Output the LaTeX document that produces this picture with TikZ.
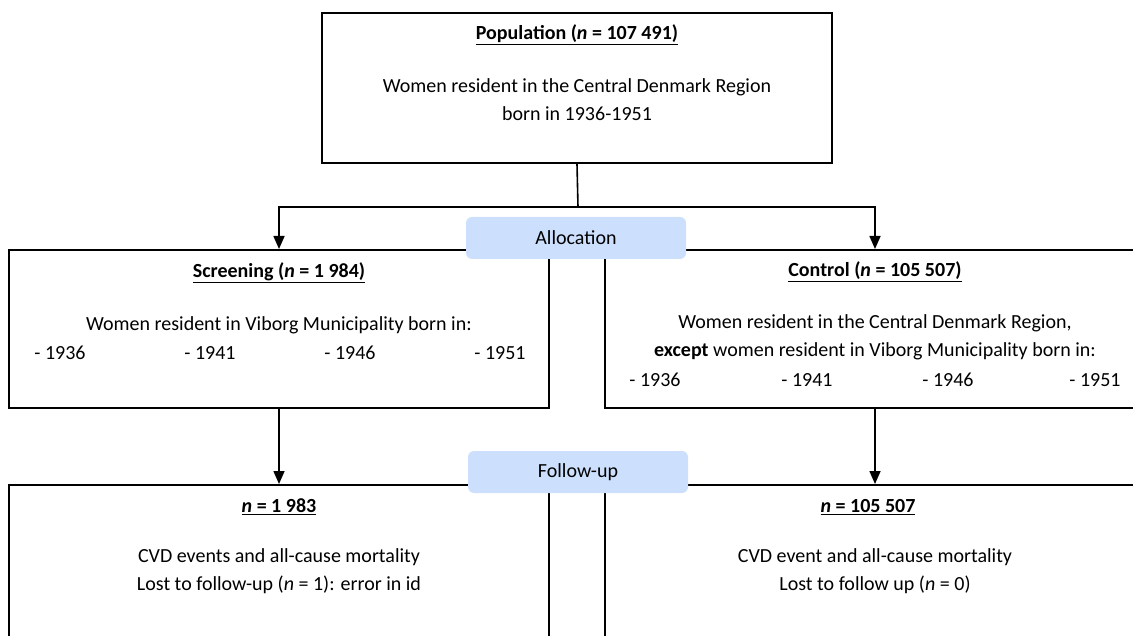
\documentclass[tikz,border=0pt]{standalone}
\usepackage{fontspec}
\setmainfont{Carlito}
\usetikzlibrary{positioning,arrows.meta,calc}
\definecolor{stagefill}{RGB}{204,224,253}
\newcommand{\flowfont}{\fontsize{20}{28}\selectfont}
\tikzset{
  frame/.style={rectangle, draw=black, line width=2pt, minimum width=540pt, minimum height=158pt, inner sep=0pt},
  head/.style={font=\flowfont\bfseries, inner sep=1pt},
  body/.style={font=\flowfont, align=center, inner sep=0pt},
  yearnode/.style={font=\flowfont, inner sep=0pt},
  stage/.style={rectangle, rounded corners=6pt, fill=stagefill, font=\flowfont, minimum width=220pt, minimum height=42pt},
  arrow/.style={-{Triangle[length=13pt,width=11pt]}, line width=1.6pt},
  link/.style={line width=1.6pt}
}

\begin{document}
\begin{tikzpicture}[x=1pt,y=-1pt]
\useasboundingbox (0,0) rectangle (1133,636);
\clip (0,0) rectangle (1133,636);
% population
\node[frame, minimum width=510pt, minimum height=150pt] (pop) at (577,88) {};
\node[head] (popt) at (577,35) {\underline{Population (\textit{n} = 107 491)}};
\node[body] (popb) at (577,100) {Women resident in the Central Denmark Region\\born in 1936-1951};
% allocation
\node[frame] (scr) at (279,329) {};
\node[head] (scrt) at (279,273) {\underline{Screening (\textit{n} = 1 984)}};
\node[body] (scrb) at (279,325) {Women resident in Viborg Municipality born in:};
\foreach \x/\yr [count=\i] in {60/1936,210/1941,350/1946,500/1951}
  \node[yearnode] (scry\i) at (\x,353) {- \yr};
\node[frame] (ctl) at (875,329) {};
\node[head] (ctlt) at (875,272) {\underline{Control (\textit{n} = 105 507)}};
\node[body] (ctlb) at (875,337.5) {Women resident in the Central Denmark Region,\\\textbf{except} women resident in Viborg Municipality born in:};
\foreach \x/\yr [count=\i] in {655/1936,807/1941,948/1946,1095/1951}
  \node[yearnode] (ctly\i) at (\x,380) {- \yr};
% follow-up
\node[frame, minimum height=180pt] (fu1) at (279,575) {};
\node[head] (fu1t) at (279,507) {\underline{\textit{n} = 1 983}};
\node[body] (fu1b) at (279,571) {CVD events and all-cause mortality\\Lost to follow-up (\textit{n} = 1): error in id};
\node[frame, minimum height=180pt] (fu2) at (875,575) {};
\node[head] (fu2t) at (868,507) {\underline{\textit{n} = 105 507}};
\node[body] (fu2b) at (875,571) {CVD event and all-cause mortality\\Lost to follow up (\textit{n} = 0)};
% connectors
\coordinate (split) at (578,207);
\draw[link] (pop.south) -- (split);
\draw[arrow] (split) -| (scr.north);
\draw[arrow] (split) -| (ctl.north);
\draw[arrow] (scr.south) -- (fu1.north);
\draw[arrow] (ctl.south) -- (fu2.north);
% stage labels
\node[stage] (alloc) at (576,238) {Allocation};
\node[stage] (follow) at (578,472) {Follow-up};
\end{tikzpicture}
\end{document}
